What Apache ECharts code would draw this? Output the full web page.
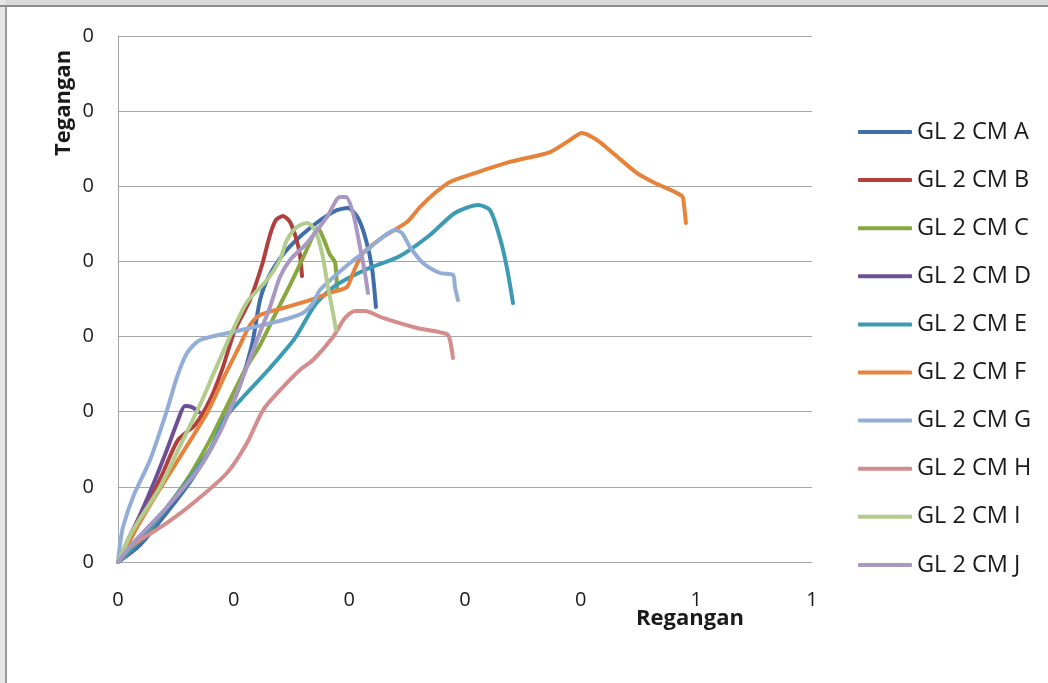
<!DOCTYPE html>
<html>
<head>
<meta charset="utf-8">
<script src="https://cdn.jsdelivr.net/npm/echarts@6/dist/echarts.min.js"></script>
<style>
html,body{margin:0;padding:0;background:#fff;}
#chart{width:1048px;height:683px;}
</style>
</head>
<body>
<div id="chart"></div>
<script>
// Regangan (x) vs Tegangan (y)
const seriesNames = ['GL 2 CM A','GL 2 CM B','GL 2 CM C','GL 2 CM D','GL 2 CM E','GL 2 CM F','GL 2 CM G','GL 2 CM H','GL 2 CM I','GL 2 CM J'];
const seriesColors = ['#3f6eaa','#b0403d','#86a83f','#6e4e96','#3d9ab3','#e6823a','#92aed6','#d48c8c','#b2cc8c','#a898c2'];

const gl2cmA = [[0,0],[0.0190,0.0113],[0.0406,0.0313],[0.0622,0.0532],[0.0795,0.0745],[0.0925,0.0945],[0.1055,0.1178],[0.1158,0.1444],[0.1228,0.1743],[0.1297,0.1890],[0.1444,0.2063],[0.1660,0.2222],[0.1876,0.2336],[0.1988,0.2356],[0.2075,0.2289],[0.2144,0.2143],[0.2196,0.1956],[0.2230,0.1697]];
const gl2cmB = [[0,0],[0.0104,0.0146],[0.0233,0.0346],[0.0380,0.0579],[0.0519,0.0812],[0.0666,0.0912],[0.0795,0.1078],[0.0899,0.1278],[0.1011,0.1544],[0.1141,0.1743],[0.1245,0.1976],[0.1314,0.2176],[0.1366,0.2276],[0.1426,0.2302],[0.1487,0.2262],[0.1539,0.2156],[0.1573,0.2043],[0.1591,0.1903]];
const gl2cmC = [[0,0],[0.0190,0.0146],[0.0406,0.0346],[0.0622,0.0579],[0.0795,0.0812],[0.0968,0.1078],[0.1098,0.1278],[0.1228,0.1444],[0.1357,0.1644],[0.1487,0.1843],[0.1599,0.2023],[0.1677,0.2156],[0.1729,0.2222],[0.1781,0.2143],[0.1833,0.2043],[0.1876,0.1996],[0.1893,0.1823]];
const gl2cmD = [[0,0],[0.0086,0.0146],[0.0190,0.0313],[0.0320,0.0546],[0.0432,0.0765],[0.0519,0.0945],[0.0579,0.1038],[0.0640,0.1031],[0.0700,0.0998]];
const gl2cmE = [[0,0],[0.0190,0.0146],[0.0406,0.0346],[0.0622,0.0559],[0.0795,0.0745],[0.0925,0.0958],[0.1098,0.1111],[0.1314,0.1291],[0.1530,0.1490],[0.1703,0.1710],[0.1876,0.1837],[0.2135,0.1943],[0.2438,0.2036],[0.2697,0.2176],[0.2913,0.2322],[0.3112,0.2375],[0.3216,0.2342],[0.3302,0.2156],[0.3363,0.1956],[0.3415,0.1723]];
const gl2cmF = [[0,0],[0.0078,0.0113],[0.0277,0.0379],[0.0536,0.0699],[0.0769,0.0991],[0.0925,0.1244],[0.1055,0.1444],[0.1141,0.1577],[0.1228,0.1644],[0.1461,0.1697],[0.1660,0.1743],[0.1859,0.1797],[0.1980,0.1830],[0.2032,0.1923],[0.2118,0.2056],[0.2291,0.2163],[0.2498,0.2262],[0.2611,0.2362],[0.2740,0.2455],[0.2870,0.2529],[0.3086,0.2588],[0.3389,0.2662],[0.3735,0.2728],[0.3908,0.2808],[0.4011,0.2855],[0.4141,0.2808],[0.4279,0.2721],[0.4487,0.2588],[0.4642,0.2522],[0.4876,0.2435],[0.4893,0.2375],[0.4910,0.2256]];
const gl2cmG = [[0,0],[0.0017,0.0113],[0.0043,0.0233],[0.0130,0.0433],[0.0277,0.0679],[0.0424,0.1011],[0.0510,0.1231],[0.0597,0.1391],[0.0709,0.1477],[0.0994,0.1530],[0.1141,0.1557],[0.1426,0.1610],[0.1599,0.1657],[0.1686,0.1723],[0.1746,0.1810],[0.2006,0.1990],[0.2153,0.2076],[0.2291,0.2163],[0.2395,0.2209],[0.2455,0.2189],[0.2524,0.2096],[0.2637,0.1990],[0.2784,0.1923],[0.2896,0.1910],[0.2913,0.1830],[0.2939,0.1743]];
const gl2cmH = [[0,0],[0.0104,0.0100],[0.0424,0.0260],[0.0683,0.0413],[0.0942,0.0592],[0.1115,0.0792],[0.1254,0.1011],[0.1426,0.1164],[0.1573,0.1278],[0.1686,0.1344],[0.1859,0.1497],[0.1962,0.1624],[0.2049,0.1670],[0.2135,0.1670],[0.2291,0.1624],[0.2585,0.1557],[0.2844,0.1517],[0.2870,0.1477],[0.2896,0.1357]];
const gl2cmI = [[0,0],[0.0130,0.0213],[0.0363,0.0499],[0.0562,0.0812],[0.0709,0.1045],[0.0821,0.1244],[0.0994,0.1544],[0.1115,0.1730],[0.1288,0.1876],[0.1400,0.2010],[0.1461,0.2143],[0.1547,0.2229],[0.1634,0.2256],[0.1703,0.2209],[0.1764,0.2056],[0.1815,0.1830],[0.1859,0.1657],[0.1885,0.1544]];
const gl2cmJ = [[0,0],[0.0130,0.0126],[0.0424,0.0366],[0.0709,0.0632],[0.0882,0.0865],[0.1011,0.1091],[0.1098,0.1264],[0.1202,0.1477],[0.1314,0.1697],[0.1400,0.1896],[0.1487,0.2010],[0.1634,0.2123],[0.1807,0.2296],[0.1919,0.2429],[0.1971,0.2429],[0.2032,0.2322],[0.2092,0.2096],[0.2135,0.1923],[0.2161,0.1790]];

const allData = [gl2cmA,gl2cmB,gl2cmC,gl2cmD,gl2cmE,gl2cmF,gl2cmG,gl2cmH,gl2cmI,gl2cmJ];

const FONT = '"Open Sans", "Noto Sans", sans-serif';

const chart = echarts.init(document.getElementById('chart'), null, {renderer:'canvas'});
chart.setOption({
  backgroundColor: '#ffffff',
  animation: false,
  grid: {left:118, right:236, top:36, bottom:121, containLabel:false},
  xAxis: {
    type:'value', min:0, max:0.6, interval:0.1,
    axisLine:{show:true, lineStyle:{color:'#a6a6a6', width:1}},
    axisTick:{show:false},
    splitLine:{show:false},
    axisLabel:{margin:28, fontSize:20, color:'#1a1a1a', fontFamily:FONT,
      formatter: v => String(Math.round(v + 1e-9))}
  },
  yAxis: {
    type:'value', min:0, max:0.35, interval:0.05,
    axisLine:{show:true, lineStyle:{color:'#a6a6a6', width:1}},
    axisTick:{show:false},
    splitLine:{show:true, lineStyle:{color:'#a6a6a6', width:1}},
    axisLabel:{margin:24, fontSize:20, color:'#1a1a1a', fontFamily:FONT,
      formatter: v => String(Math.round(v))}
  },
  legend: {
    orient:'vertical', left:853, top:115,
    itemWidth:54, itemHeight:4, itemGap:24.1, icon:'roundRect',
    textStyle:{fontSize:23.5, color:'#1a1a1a', fontFamily:FONT, lineHeight:24},
    data: seriesNames
  },
  graphic: [
    {type:'rect', shape:{x:0,y:0,width:1048,height:5}, style:{fill:'#d9d9d9'}, silent:true},
    {type:'rect', shape:{x:0,y:0,width:5,height:683}, style:{fill:'#e6e6e6'}, silent:true},
    {type:'line', shape:{x1:0,y1:6,x2:1048,y2:6}, style:{stroke:'#8a8a8a', lineWidth:2}, silent:true},
    {type:'line', shape:{x1:6,y1:6,x2:6,y2:683}, style:{stroke:'#9a9a9a', lineWidth:2}, silent:true},
    {type:'text', left:636, top:608, style:{text:'Regangan', font:'bold 22px ' + FONT, fill:'#1a1a1a'}, silent:true},
    {type:'text', x:53, y:156, rotation:Math.PI/2, style:{text:'Tegangan', font:'bold 22px ' + FONT, fill:'#1a1a1a', textVerticalAlign:'top'}, silent:true}
  ],
  series: seriesNames.map((name,i) => ({
    name: name,
    type:'line',
    data: allData[i],
    smooth:0.25,
    showSymbol:false,
    symbol:'none',
    lineStyle:{width:4, color:seriesColors[i], cap:'round', join:'round'},
    itemStyle:{color:seriesColors[i]}
  }))
});
</script>
</body>
</html>
